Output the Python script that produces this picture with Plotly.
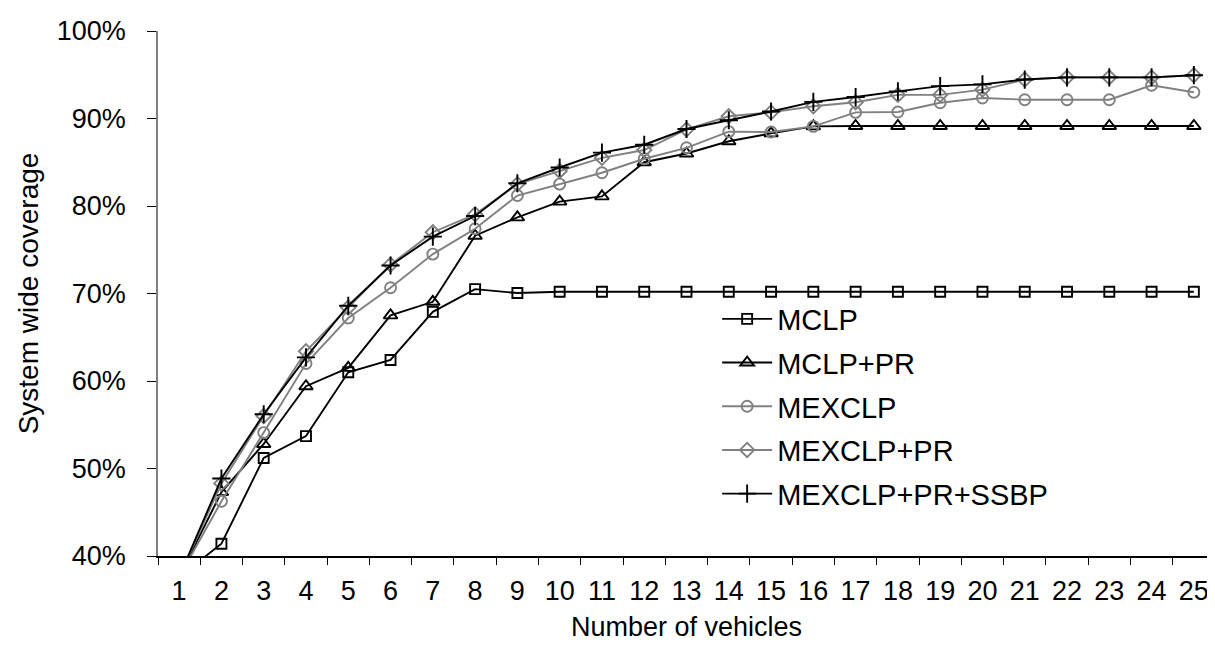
import plotly.graph_objects as go

vehicles = [str(i) for i in range(1, 26)]

mclp = [37.6, 41.4, 51.2, 53.7, 61.0, 62.4, 67.9, 70.5, 70.05, 70.2, 70.2, 70.2, 70.2,
        70.2, 70.2, 70.2, 70.2, 70.2, 70.2, 70.2, 70.2, 70.2, 70.2, 70.2, 70.2]
mclp_pr = [37.6, 47.3, 52.8, 59.4, 61.5, 67.5, 69.05, 76.6, 78.7, 80.5, 81.1, 85.0, 86.0,
           87.4, 88.3, 89.1, 89.15, 89.15, 89.15, 89.15, 89.15, 89.15, 89.15, 89.15, 89.15]
mexclp = [37.6, 46.25, 54.1, 62.0, 67.2, 70.65, 74.5, 77.4, 81.2, 82.5, 83.8, 85.4, 86.65,
          88.5, 88.45, 89.1, 90.7, 90.75, 91.8, 92.35, 92.15, 92.15, 92.15, 93.8, 93.0]
mexclp_pr = [37.6, 48.3, 56.0, 63.4, 68.4, 73.3, 77.0, 79.05, 82.5, 84.0, 85.5, 86.4, 88.75,
             90.25, 90.7, 91.4, 91.85, 92.7, 92.7, 93.3, 94.45, 94.7, 94.7, 94.7, 94.95]
mexclp_pr_ssbp = [37.6, 48.85, 56.2, 62.7, 68.6, 73.2, 76.5, 78.85, 82.6, 84.4, 86.1, 87.0, 88.8,
                  89.8, 90.8, 91.9, 92.45, 93.1, 93.7, 93.9, 94.45, 94.7, 94.7, 94.7, 94.95]

y_ticks = [0.4, 0.5, 0.6, 0.7, 0.8, 0.9, 1.0]

BLACK = "#000000"
GRAY = "#808080"
FONT = "Liberation Sans, Arial, sans-serif"

series = [
    ("MCLP", mclp, BLACK, "square-open", 10),
    ("MCLP+PR", mclp_pr, BLACK, "triangle-up-open", 12),
    ("MEXCLP", mexclp, GRAY, "circle-open", 11),
    ("MEXCLP+PR", mexclp_pr, GRAY, "diamond-open", 11),
    ("MEXCLP+PR+SSBP", mexclp_pr_ssbp, BLACK, "cross-thin-open", 13),
]

fig = go.Figure()
for i, (name, vals, color, symbol, size) in enumerate(series):
    fig.add_trace(go.Scatter(
        x=vehicles,
        y=[v / 100 for v in vals],
        name=name,
        mode="lines+markers",
        line=dict(color=color, width=1.9),
        marker=dict(symbol=symbol, size=size, color=color,
                    line=dict(color=color, width=1.9)),
        legendgroup=f"g{i}",
    ))

fig.update_layout(
    width=1215, height=649,
    margin=dict(l=150, r=8, t=21, b=101, pad=0),
    paper_bgcolor="white", plot_bgcolor="white",
    font=dict(family=FONT, size=27, color="black"),
    showlegend=True,
    legend=dict(
        x=0.529, y=0.50, xanchor="left", yanchor="top",
        bgcolor="rgba(0,0,0,0)", borderwidth=0,
        font=dict(family=FONT, size=29, color="black"),
        traceorder="grouped", tracegroupgap=3,
        itemwidth=50,
    ),
    xaxis=dict(
        type="category", range=[-0.5, 24.5],
        showline=True, linecolor=BLACK, linewidth=1.5,
        ticks="outside", ticklen=7, tickcolor=BLACK, tickwidth=1.2,
        tickson="boundaries",
        showgrid=False, zeroline=False,
        tickfont=dict(family=FONT, size=27),
        ticklabelstandoff=10,
        title=dict(text="Number of vehicles", font=dict(family=FONT, size=27), standoff=12),
    ),
    yaxis=dict(
        range=[0.4, 1.0], tickvals=y_ticks, tickformat=".0%",
        showline=True, linecolor=GRAY, linewidth=1.5,
        ticks="outside", ticklen=9, tickcolor=BLACK, tickwidth=1.2,
        showgrid=False, zeroline=False,
        tickfont=dict(family=FONT, size=27),
        ticklabelstandoff=16,
        title=dict(text="System wide coverage", font=dict(family=FONT, size=28), standoff=10),
    ),
)

fig.write_html("out.html")
